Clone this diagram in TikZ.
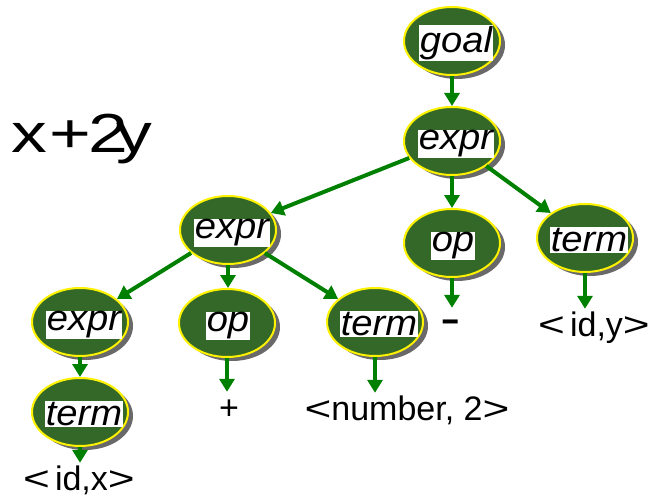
\documentclass[tikz,border=0pt]{standalone}
\usepackage{fontspec}
\setmainfont{Liberation Sans}
\usetikzlibrary{arrows.meta,shapes.geometric,shadows}
\definecolor{nodegreen}{RGB}{52,104,40}
\definecolor{arrowgreen}{RGB}{0,128,0}
\definecolor{shadowgray}{RGB}{105,105,105}
\newcommand{\wlt}{\scalebox{1.35}[1]{<}}
\newcommand{\wgt}{\scalebox{1.35}[1]{>}}
\begin{document}
\begin{tikzpicture}[x=1pt,y=-1pt,
  nt/.style={ellipse, draw=yellow, line width=2pt, fill=nodegreen,
    minimum width=96pt, minimum height=68pt, inner sep=0pt,
    general shadow={fill=shadowgray, shadow xshift=5pt, shadow yshift=-4pt}},
  lab/.style={fill=white, inner sep=0.8pt,
    font=\fontsize{36}{36}\selectfont\itshape},
  leaf/.style={anchor=base, inner sep=0pt, text height=27pt, text depth=6pt,
    font=\fontsize{34}{34}\selectfont},
  arr/.style={draw=arrowgreen, line width=4pt,
    -{Triangle[length=13pt,width=15pt]}}
]
\useasboundingbox (0,0) rectangle (656,500);

% tree nodes
\node[nt] (g)  at (452,41)  {};
\node[nt] (e1) at (452,141) {};
\node[nt] (e2) at (228,230) {};
\node[nt] (o2) at (452,243) {};
\node[nt] (t3) at (585,238) {};
\node[nt] (e3) at (80,322)  {};
\node[nt] (o1) at (227,323) {};
\node[nt] (t2) at (375,322) {};
\node[nt] (t1) at (80,412)  {};

% labels in white boxes
\node[lab] (gl)  at ([shift={(4,2)}]g.center)  {\scalebox{1.06}[1]{goal}};
\node[lab] (e1l) at ([shift={(4,3)}]e1.center) {\scalebox{1.06}[1]{expr}};
\node[lab] (e2l) at ([shift={(4,3)}]e2.center) {\scalebox{1.06}[1]{expr}};
\node[lab] (o2l) at ([shift={(1,3)}]o2.center) {\scalebox{1.06}[1]{op}};
\node[lab] (t3l) at ([shift={(4,2)}]t3.center) {\scalebox{1.06}[1]{term}};
\node[lab] (e3l) at ([shift={(4,3)}]e3.center) {\scalebox{1.06}[1]{expr}};
\node[lab] (o1l) at ([shift={(1,3)}]o1.center) {\scalebox{1.06}[1]{op}};
\node[lab] (t2l) at ([shift={(4,2)}]t2.center) {\scalebox{1.06}[1]{term}};
\node[lab] (t1l) at ([shift={(4,2)}]t1.center) {\scalebox{1.06}[1]{term}};

% leaves
\node[leaf] (lx) at (79,490)  {\wlt\kern5pt id,x\wgt};
\node[leaf] (lp) at (229,419) {+};
\node[leaf] (ln) at (407,420) {\wlt number, 2\wgt};
\node[leaf] (lm) at (451,335) {\scalebox{1.8}[1.5]{-}};
\node[leaf] (ly) at (594,336) {\wlt\kern5pt id,y\wgt};

% expression text
\node[anchor=base west, inner sep=0pt] (xy) at (11,153)
  {\fontsize{55}{55}\selectfont\scalebox{1.3}[1]{x\kern2pt+\kern-2pt2\kern-9pt y}};

% connectors
\draw[arr] (g.south) -- (e1.north);
\draw[arr] (e1) -- (e2);
\draw[arr] (e1.south) -- (o2.north);
\draw[arr] (e1) -- (t3);
\draw[arr] (e2) -- (e3);
\draw[arr] (e2.south) -- (e2.south |- o1.north);
\draw[arr] (e2) -- (t2);
\draw[arr] (e3.south) -- (t1.north);
\draw[arr] (t1.south) -- (t1.south |- lx.north);
\draw[arr] (o1.south) -- (o1.south |- lp.north);
\draw[arr] (t2.south) -- (t2.south |- ln.north);
\draw[arr] (o2.south) -- (o2.south |- lm.north);
\draw[arr] (t3.south) -- (t3.south |- ly.north);
\end{tikzpicture}
\end{document}
